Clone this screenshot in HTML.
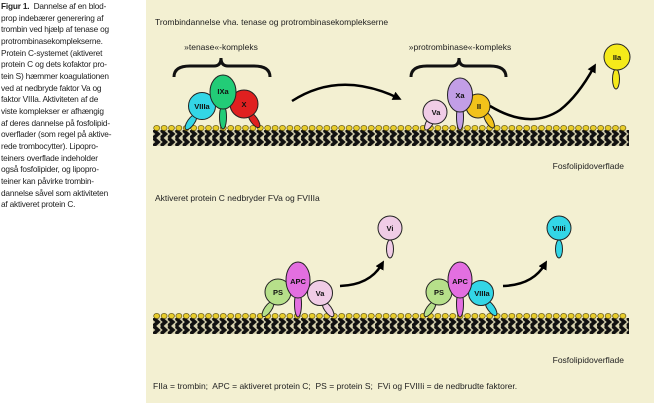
<!DOCTYPE html>
<html><head><meta charset="utf-8"><style>
body{margin:0;width:654px;height:403px;background:#fff;position:relative;overflow:hidden;font-family:"Liberation Sans",sans-serif}
#cap{position:absolute;left:1px;top:1px;font-size:8.3px;line-height:11.65px;color:#222;white-space:nowrap;letter-spacing:-0.2px}
#cap b{font-weight:bold}
svg{position:absolute;left:0;top:0}
</style></head><body>
<div id="cap"><b>Figur 1.</b>&nbsp; Dannelse af en blod-<br>prop indebærer generering af<br>trombin ved hjælp af tenase og<br>protrombinasekomplekserne.<br>Protein C-systemet (aktiveret<br>protein C og dets kofaktor pro-<br>tein S) hæmmer koagulationen<br>ved at nedbryde faktor Va og<br>faktor VIIIa. Aktiviteten af de<br>viste komplekser er afhængig<br>af deres dannelse på fosfolipid-<br>overflader (som regel på aktive-<br>rede trombocytter). Lipopro-<br>teiners overflade indeholder<br>også fosfolipider, og lipopro-<br>teiner kan påvirke trombin-<br>dannelse såvel som aktiviteten<br>af aktiveret protein C.</div>
<svg width="654" height="403" viewBox="0 0 654 403" font-family="Liberation Sans, sans-serif">
<defs>
<pattern id="memA" x="153" y="130" width="7.4" height="16" patternUnits="userSpaceOnUse">
<rect width="7.4" height="16" fill="#d8d3b0"/>
<polyline points="0.5,0 5,4 0.5,8" fill="none" stroke="#111" stroke-width="3.6"/>
<polyline points="0.5,8 5,12 0.5,16" fill="none" stroke="#111" stroke-width="3.6"/>
</pattern>
<pattern id="memB" x="153" y="318" width="7.4" height="16" patternUnits="userSpaceOnUse">
<rect width="7.4" height="16" fill="#d8d3b0"/>
<polyline points="0.5,0 5,4 0.5,8" fill="none" stroke="#111" stroke-width="3.6"/>
<polyline points="0.5,8 5,12 0.5,16" fill="none" stroke="#111" stroke-width="3.6"/>
</pattern>
<pattern id="dotA" x="153" y="124" width="7.4" height="8" patternUnits="userSpaceOnUse">
<ellipse cx="3.7" cy="4" rx="3" ry="2.6" fill="#e8cd2c" stroke="#4a3d00" stroke-width="0.6"/>
</pattern>
<pattern id="dotB" x="153" y="312" width="7.4" height="8" patternUnits="userSpaceOnUse">
<ellipse cx="3.7" cy="4" rx="3" ry="2.6" fill="#e8cd2c" stroke="#4a3d00" stroke-width="0.6"/>
</pattern>
<marker id="ah" markerWidth="9" markerHeight="9" refX="5" refY="4.5" orient="auto" markerUnits="userSpaceOnUse"><path d="M0,0 L9,4.5 L0,9 Z" fill="#000"/></marker>
</defs>
<rect x="146" y="0" width="508" height="403" fill="#f3f0d2"/>
<text x="155" y="25" font-size="8.5" fill="#222">Trombindannelse vha. tenase og protrombinasekomplekserne</text>
<text x="221" y="50" font-size="8.5" fill="#222" text-anchor="middle">»tenase«-kompleks</text>
<text x="460" y="50" font-size="8.5" fill="#222" text-anchor="middle">»protrombinase«-kompleks</text>
<path d="M174,77 Q174,66 190,66 L214,66 Q221,66 221,58 Q221,66 228,66 L254,66 Q270,66 270,77" fill="none" stroke="#111" stroke-width="3"/>
<path d="M411,77 Q411,66 427,66 L452,66 Q459,66 459,58 Q459,66 466,66 L490,66 Q506,66 506,77" fill="none" stroke="#111" stroke-width="3"/>
<rect x="153" y="130" width="476" height="16" fill="url(#memA)"/>
<rect x="153" y="124" width="474" height="8" fill="url(#dotA)"/>
<rect x="153" y="318" width="476" height="16" fill="url(#memB)"/>
<rect x="153" y="312" width="474" height="8" fill="url(#dotB)"/>
<text x="624" y="169" font-size="8.5" fill="#222" text-anchor="end">Fosfolipidoverflade</text>
<text x="624" y="363" font-size="8.5" fill="#222" text-anchor="end">Fosfolipidoverflade</text>
<text x="155" y="201" font-size="8.5" fill="#222">Aktiveret protein C nedbryder FVa og FVIIIa</text>
<text x="153" y="389" font-size="8.5" fill="#222">FIIa = trombin;&#160; APC = aktiveret protein C;&#160; PS = protein S;&#160; FVi og FVIIIi = de nedbrudte faktorer.</text>
<g stroke="#222" stroke-width="1">
<ellipse cx="191" cy="122" rx="3.5" ry="9" transform="rotate(35 191 122)" fill="#33d6e6"/>
<ellipse cx="223" cy="117" rx="3.5" ry="12" fill="#22cc77"/>
<ellipse cx="254" cy="120" rx="3.5" ry="9" transform="rotate(-35 254 120)" fill="#e02020"/>
<circle cx="202" cy="106" r="13.5" fill="#33d6e6"/>
<circle cx="244" cy="104" r="14" fill="#e02020"/>
<ellipse cx="223" cy="92" rx="13" ry="17" fill="#22cc77"/>
<ellipse cx="430" cy="122" rx="3.5" ry="9" transform="rotate(30 430 122)" fill="#f0cce6"/>
<ellipse cx="460" cy="117" rx="3.5" ry="13" fill="#c29ee6"/>
<ellipse cx="489" cy="120" rx="3.5" ry="9" transform="rotate(-30 489 120)" fill="#f2c21a"/>
<circle cx="435" cy="112" r="12" fill="#f0cce6"/>
<circle cx="478" cy="106" r="12" fill="#f2c21a"/>
<ellipse cx="460" cy="95" rx="12.5" ry="17" fill="#c29ee6"/>
<ellipse cx="616" cy="79" rx="3.5" ry="10" fill="#f5ea1a"/>
<circle cx="617" cy="57" r="13" fill="#f5ea1a"/>
<ellipse cx="268" cy="309" rx="3.5" ry="9" transform="rotate(35 268 309)" fill="#b6e08a"/>
<ellipse cx="298" cy="304" rx="3.5" ry="13" fill="#e36fe0"/>
<ellipse cx="328" cy="309" rx="3.5" ry="9" transform="rotate(-35 328 309)" fill="#f0cce6"/>
<circle cx="278" cy="292" r="13" fill="#b6e08a"/>
<circle cx="320" cy="293" r="12.5" fill="#f0cce6"/>
<ellipse cx="298" cy="280" rx="12" ry="18" fill="#e36fe0"/>
<ellipse cx="390" cy="249" rx="3.5" ry="9" fill="#f0cce6"/>
<circle cx="390" cy="228" r="12" fill="#f0cce6"/>
<ellipse cx="430" cy="309" rx="3.5" ry="9" transform="rotate(35 430 309)" fill="#b6e08a"/>
<ellipse cx="460" cy="304" rx="3.5" ry="13" fill="#e36fe0"/>
<ellipse cx="491" cy="308" rx="3.5" ry="9" transform="rotate(-35 491 308)" fill="#33d6e6"/>
<circle cx="439" cy="292" r="13" fill="#b6e08a"/>
<circle cx="481" cy="293" r="12.5" fill="#33d6e6"/>
<ellipse cx="460" cy="280" rx="12" ry="18" fill="#e36fe0"/>
<ellipse cx="559" cy="249" rx="3.5" ry="9" fill="#33d6e6"/>
<circle cx="559" cy="228" r="12" fill="#33d6e6"/>
</g>
<g font-size="7.5" font-weight="bold" text-anchor="middle" fill="#111">
<text x="202" y="109">VIIIa</text><text x="223" y="94">IXa</text><text x="244" y="107">X</text>
<text x="436" y="115">Va</text><text x="460" y="98">Xa</text><text x="479" y="109">II</text>
<text x="617" y="60">IIa</text>
<text x="278" y="295">PS</text><text x="298" y="284">APC</text><text x="320" y="296">Va</text>
<text x="390" y="231">Vi</text>
<text x="439" y="295">PS</text><text x="460" y="284">APC</text><text x="482" y="296">VIIIa</text>
<text x="559" y="231">VIIIi</text>
</g>
<g fill="none" stroke="#000" stroke-width="2.5">
<path d="M292,101 Q340,70 398,98" marker-end="url(#ah)"/>
<path d="M490,106 Q530,130 560,110 Q578,96 594,67" marker-end="url(#ah)"/>
<path d="M340,286 Q370,285 382,264" marker-end="url(#ah)"/>
<path d="M503,286 Q533,285 545,264" marker-end="url(#ah)"/>
</g>
</svg>
</body></html>
